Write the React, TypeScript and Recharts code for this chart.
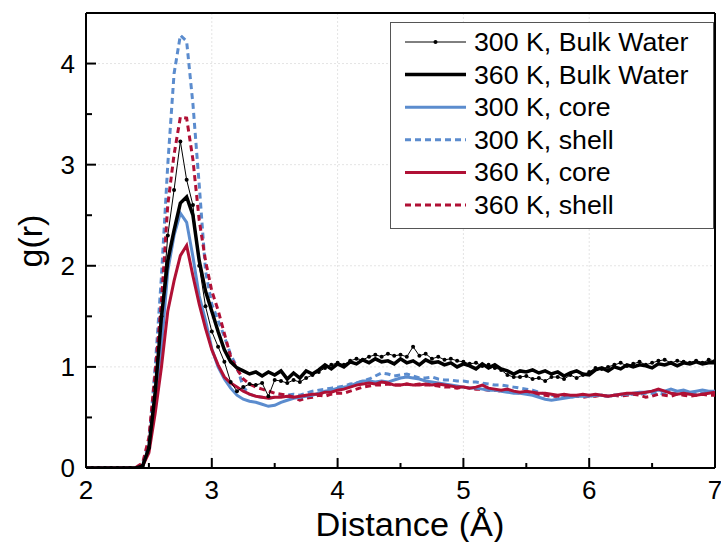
import React from "react";
import { CartesianGrid, Line, LineChart, ReferenceLine, XAxis, YAxis } from "recharts";

// distance grid (Å), 0.05 step
const distance = [
  2.0, 2.05, 2.1, 2.15, 2.2, 2.25, 2.3, 2.35, 2.4, 2.45,
  2.5, 2.55, 2.6, 2.65, 2.7, 2.75, 2.8, 2.85, 2.9, 2.95,
  3.0, 3.05, 3.1, 3.15, 3.2, 3.25, 3.3, 3.35, 3.4, 3.45,
  3.5, 3.55, 3.6, 3.65, 3.7, 3.75, 3.8, 3.85, 3.9, 3.95,
  4.0, 4.05, 4.1, 4.15, 4.2, 4.25, 4.3, 4.35, 4.4, 4.45,
  4.5, 4.55, 4.6, 4.65, 4.7, 4.75, 4.8, 4.85, 4.9, 4.95,
  5.0, 5.05, 5.1, 5.15, 5.2, 5.25, 5.3, 5.35, 5.4, 5.45,
  5.5, 5.55, 5.6, 5.65, 5.7, 5.75, 5.8, 5.85, 5.9, 5.95,
  6.0, 6.05, 6.1, 6.15, 6.2, 6.25, 6.3, 6.35, 6.4, 6.45,
  6.5, 6.55, 6.6, 6.65, 6.7, 6.75, 6.8, 6.85, 6.9, 6.95,
  7.0,
];

const bulk300 = [
  0, 0, 0, 0, 0, 0, 0, 0, 0, 0.02,
  0.2, 0.8, 1.5, 2.3, 2.75, 3.23, 2.85, 2.6, 2.0, 1.6,
  1.35, 1.2, 1.05, 0.85, 0.76, 0.8, 0.83, 0.82, 0.84, 0.71,
  0.87, 0.86, 0.84, 0.87, 0.85, 0.89, 0.92, 0.95, 0.99, 1.02,
  1.04, 1.02, 1.06, 1.08, 1.07, 1.1, 1.12, 1.1, 1.13, 1.11,
  1.12, 1.1, 1.2, 1.11, 1.13, 1.08, 1.1, 1.07, 1.08, 1.06,
  1.05, 1.03, 1.04, 1.01, 1.02, 0.99, 0.97, 0.92, 0.9, 0.9,
  0.91, 0.88, 0.89, 0.86, 0.9, 0.9, 0.88, 0.92, 0.89, 0.92,
  0.95, 0.99, 0.98, 1.0, 1.02, 1.04, 1.01, 1.03, 1.05, 1.02,
  1.04, 1.06, 1.07, 1.04, 1.06, 1.05, 1.04, 1.06, 1.04, 1.07,
  1.06,
];

const bulk360 = [
  0, 0, 0, 0, 0, 0, 0, 0, 0, 0.02,
  0.2, 0.75, 1.5, 2.05, 2.35, 2.62, 2.68, 2.5, 2.05, 1.75,
  1.55, 1.35, 1.17, 1.05, 0.99, 0.96, 0.93, 0.95, 0.91, 0.95,
  0.92, 0.96, 0.88, 0.94, 0.89, 0.96, 0.93, 0.97, 1.02, 0.98,
  1.03, 1.0, 1.05, 1.03, 1.07, 1.04, 1.08, 1.05, 1.06, 1.03,
  1.08, 1.04, 1.06, 1.02, 1.07, 1.04, 1.05, 1.02, 1.04, 1.0,
  1.03, 1.01, 0.98, 1.03, 0.99, 1.02, 0.98, 0.96, 0.93, 0.96,
  0.95, 0.97, 0.94, 0.96, 0.93, 0.95, 0.91, 0.94, 0.96, 0.93,
  0.92, 0.97, 0.99, 0.96, 1.0, 0.98, 1.02, 1.0, 1.02, 1.01,
  0.99, 1.03, 1.02, 1.04, 1.01, 1.04, 1.03, 1.05, 1.03, 1.04,
  1.04,
];

const core300 = [
  0, 0, 0, 0, 0, 0, 0, 0, 0, 0.02,
  0.2, 0.7, 1.2, 1.95, 2.3, 2.52, 2.43, 2.09, 1.7, 1.46,
  1.18, 1.0, 0.88, 0.79, 0.72, 0.68, 0.66, 0.65, 0.63, 0.61,
  0.62, 0.65, 0.67, 0.69, 0.7, 0.71, 0.72, 0.74, 0.76, 0.77,
  0.79, 0.8, 0.81, 0.84, 0.86, 0.86, 0.85, 0.86, 0.85, 0.87,
  0.89, 0.9, 0.89, 0.88, 0.86, 0.85, 0.84, 0.83, 0.82, 0.81,
  0.8, 0.79, 0.79, 0.78, 0.77, 0.77, 0.76, 0.75, 0.74, 0.74,
  0.73, 0.72, 0.7, 0.68, 0.67, 0.68, 0.69, 0.7, 0.71, 0.71,
  0.71, 0.72, 0.72, 0.71, 0.72, 0.73, 0.73, 0.74, 0.75, 0.75,
  0.76, 0.77, 0.76, 0.78, 0.76, 0.77, 0.75, 0.76, 0.77, 0.76,
  0.76,
];

const shell300 = [
  0, 0, 0, 0, 0, 0, 0, 0, 0, 0.03,
  0.25, 1.0, 1.9, 3.0, 3.9, 4.28, 4.22, 3.6, 2.8, 1.95,
  1.62, 1.46, 1.3, 1.12, 1.0, 0.8, 0.73, 0.71, 0.7, 0.69,
  0.7, 0.71, 0.72, 0.73, 0.72, 0.74, 0.76, 0.77, 0.78, 0.79,
  0.8, 0.81, 0.83, 0.84, 0.86, 0.88, 0.91, 0.94, 0.93, 0.91,
  0.92, 0.93, 0.91, 0.89, 0.89, 0.9, 0.88, 0.87, 0.87, 0.86,
  0.86, 0.85, 0.85, 0.84, 0.83, 0.82, 0.82, 0.81, 0.8, 0.79,
  0.78, 0.77, 0.75, 0.73, 0.72, 0.71, 0.71, 0.7, 0.71, 0.72,
  0.71, 0.72, 0.72, 0.71, 0.72, 0.72, 0.73, 0.73, 0.73, 0.74,
  0.74, 0.74, 0.73, 0.74, 0.74, 0.75, 0.74, 0.75, 0.74, 0.75,
  0.75,
];

const core360 = [
  0, 0, 0, 0, 0, 0, 0, 0, 0, 0.02,
  0.15, 0.54, 1.0, 1.55, 1.85, 2.1, 2.2, 1.9, 1.62, 1.38,
  1.17, 1.02, 0.9, 0.84, 0.8, 0.76, 0.73, 0.71, 0.7, 0.69,
  0.7, 0.7, 0.71, 0.7, 0.71, 0.72, 0.73, 0.73, 0.75, 0.75,
  0.77, 0.78, 0.8, 0.82, 0.83, 0.84, 0.83, 0.85, 0.84, 0.82,
  0.82, 0.83, 0.82, 0.82, 0.83, 0.82, 0.83, 0.82, 0.81, 0.8,
  0.8, 0.79, 0.8, 0.82, 0.79, 0.78, 0.77, 0.78, 0.76, 0.75,
  0.76, 0.75, 0.74, 0.74, 0.73, 0.72, 0.73, 0.72, 0.72, 0.73,
  0.72, 0.73, 0.72, 0.71, 0.72, 0.73, 0.74, 0.74, 0.74, 0.75,
  0.76, 0.78, 0.76, 0.74, 0.73, 0.74, 0.73, 0.72, 0.73, 0.74,
  0.75,
];

const shell360 = [
  0, 0, 0, 0, 0, 0, 0, 0, 0.01, 0.05,
  0.3, 0.95, 1.65, 2.6, 3.1, 3.47, 3.46, 3.05, 2.45, 2.05,
  1.75, 1.56, 1.33, 1.1, 0.98, 0.88, 0.83, 0.8, 0.78, 0.76,
  0.74, 0.73, 0.72, 0.7, 0.67, 0.69, 0.7, 0.72, 0.71, 0.73,
  0.74, 0.74, 0.76, 0.78, 0.8, 0.81, 0.82, 0.82, 0.83, 0.82,
  0.82, 0.83, 0.82, 0.83, 0.82, 0.82, 0.81, 0.8, 0.8, 0.79,
  0.8, 0.79, 0.78, 0.78, 0.77, 0.77, 0.76, 0.76, 0.75, 0.74,
  0.74, 0.73, 0.72, 0.72, 0.71, 0.71, 0.7, 0.71, 0.71, 0.7,
  0.71, 0.71, 0.72, 0.71, 0.72, 0.71, 0.72, 0.73, 0.72, 0.7,
  0.71, 0.73, 0.72, 0.71, 0.73, 0.72, 0.71, 0.72, 0.73, 0.72,
  0.72,
];

const xTicks = [2, 2.5, 3, 3.5, 4, 4.5, 5, 5.5, 6, 6.5, 7];
const yTicks = [0, 0.5, 1, 1.5, 2, 2.5, 3, 3.5, 4];

const BLUE = "#5b8cce";
const RED = "#b01035";
const FONT = "'Liberation Sans', Arial, sans-serif";

const rows = distance.map((x, i) => ({
  x,
  bulk300: bulk300[i],
  bulk360: bulk360[i],
  core300: core300[i],
  shell300: shell300[i],
  core360: core360[i],
  shell360: shell360[i],
}));

const legendItems = [
  { label: "300 K, Bulk Water", color: "#000", width: 1, dash: undefined, dot: true },
  { label: "360 K, Bulk Water", color: "#000", width: 3.5, dash: undefined, dot: false },
  { label: "300 K, core", color: BLUE, width: 3, dash: undefined, dot: false },
  { label: "300 K, shell", color: BLUE, width: 3, dash: "6 4", dot: false },
  { label: "360 K, core", color: RED, width: 3, dash: undefined, dot: false },
  { label: "360 K, shell", color: RED, width: 3, dash: "6 4", dot: false },
];

function XTick({ x, y, payload }: any) {
  const major = Number.isInteger(payload.value);
  return (
    <g>
      <line x1={x} x2={x} y1={y} y2={y - (major ? 10 : 5)} stroke="#000" strokeWidth={2} />
      {major && (
        <text x={x} y={y + 31} textAnchor="middle" fontSize={26} fontFamily={FONT} fill="#000">
          {payload.value}
        </text>
      )}
    </g>
  );
}

function YTick({ x, y, payload }: any) {
  const major = Number.isInteger(payload.value);
  return (
    <g>
      <line x1={x} x2={x + (major ? 10 : 6)} y1={y} y2={y} stroke="#000" strokeWidth={2} />
      {major && (
        <text x={x - 11} y={y + 9} textAnchor="end" fontSize={26} fontFamily={FONT} fill="#000">
          {payload.value}
        </text>
      )}
    </g>
  );
}

function LegendBox() {
  return (
    <svg width={721} height={542} style={{ position: "absolute", left: 0, top: 0, pointerEvents: "none" }}>
      <rect x={390.5} y={22.5} width={323} height={206} fill="#fff" stroke="#555" strokeWidth={1} />
      {legendItems.map((it, i) => {
        const cy = 42 + i * 32.6;
        return (
          <g key={it.label}>
            <line x1={405} x2={466} y1={cy} y2={cy} stroke={it.color} strokeWidth={it.width} strokeDasharray={it.dash} />
            {it.dot && <circle cx={435.5} cy={cy} r={2} fill="#000" />}
            <text
              transform={`translate(474 ${cy + 9}) scale(1.07 1)`}
              fontSize={25}
              fontFamily={FONT}
              fill="#000"
            >
              {it.label}
            </text>
          </g>
        );
      })}
    </svg>
  );
}

export default function App() {
  return (
    <div style={{ position: "absolute", left: 0, top: 0, width: 721, height: 542, background: "#fff" }}>
      <LineChart width={721} height={542} data={rows} margin={{ top: 13, right: 6, bottom: 0, left: 0 }}>
        <CartesianGrid
          stroke="#e4e4e4"
          strokeDasharray="2 2"
          horizontalValues={[1, 2, 3, 4]}
          verticalValues={[3, 4, 5, 6]}
        />
        <XAxis
          dataKey="x"
          type="number"
          domain={[2, 7]}
          ticks={xTicks}
          interval={0}
          height={74}
          tickSize={0}
          tickMargin={0}
          tickLine={false}
          tick={<XTick />}
          axisLine={{ stroke: "#000", strokeWidth: 2 }}
          allowDataOverflow
          label={{
            value: "Distance (Å)",
            content: () => (
              <text
                transform="translate(410 536) scale(1.04 1)"
                textAnchor="middle"
                fontSize={33}
                fontFamily={FONT}
                fill="#000"
              >
                Distance (Å)
              </text>
            ),
          }}
        />
        <YAxis
          type="number"
          domain={[0, 4.5]}
          ticks={yTicks}
          interval={0}
          width={86}
          tickSize={0}
          tickMargin={0}
          tickLine={false}
          tick={<YTick />}
          axisLine={{ stroke: "#000", strokeWidth: 2 }}
          allowDataOverflow
          label={{
            value: "g(r)",
            content: () => (
              <text
                x={30}
                y={241}
                transform="rotate(-90 30 241)"
                textAnchor="middle"
                dominantBaseline="central"
                fontSize={34}
                fontFamily={FONT}
                fill="#000"
              >
                g(r)
              </text>
            ),
          }}
        />
        <ReferenceLine y={4.5} stroke="#000" strokeWidth={2} ifOverflow="visible" />
        <ReferenceLine x={7} stroke="#000" strokeWidth={2} ifOverflow="visible" />
        <Line dataKey="shell300" stroke={BLUE} strokeWidth={3} strokeDasharray="6 4" dot={false} isAnimationActive={false} />
        <Line dataKey="shell360" stroke={RED} strokeWidth={3} strokeDasharray="6 4" dot={false} isAnimationActive={false} />
        <Line dataKey="core300" stroke={BLUE} strokeWidth={3} dot={false} isAnimationActive={false} />
        <Line dataKey="core360" stroke={RED} strokeWidth={3} dot={false} isAnimationActive={false} />
        <Line
          dataKey="bulk300"
          stroke="#000"
          strokeWidth={1}
          dot={{ r: 2, fill: "#000", stroke: "#000", strokeWidth: 0 }}
          isAnimationActive={false}
        />
        <Line dataKey="bulk360" stroke="#000" strokeWidth={3.5} dot={false} isAnimationActive={false} />
      </LineChart>
      <LegendBox />
    </div>
  );
}
